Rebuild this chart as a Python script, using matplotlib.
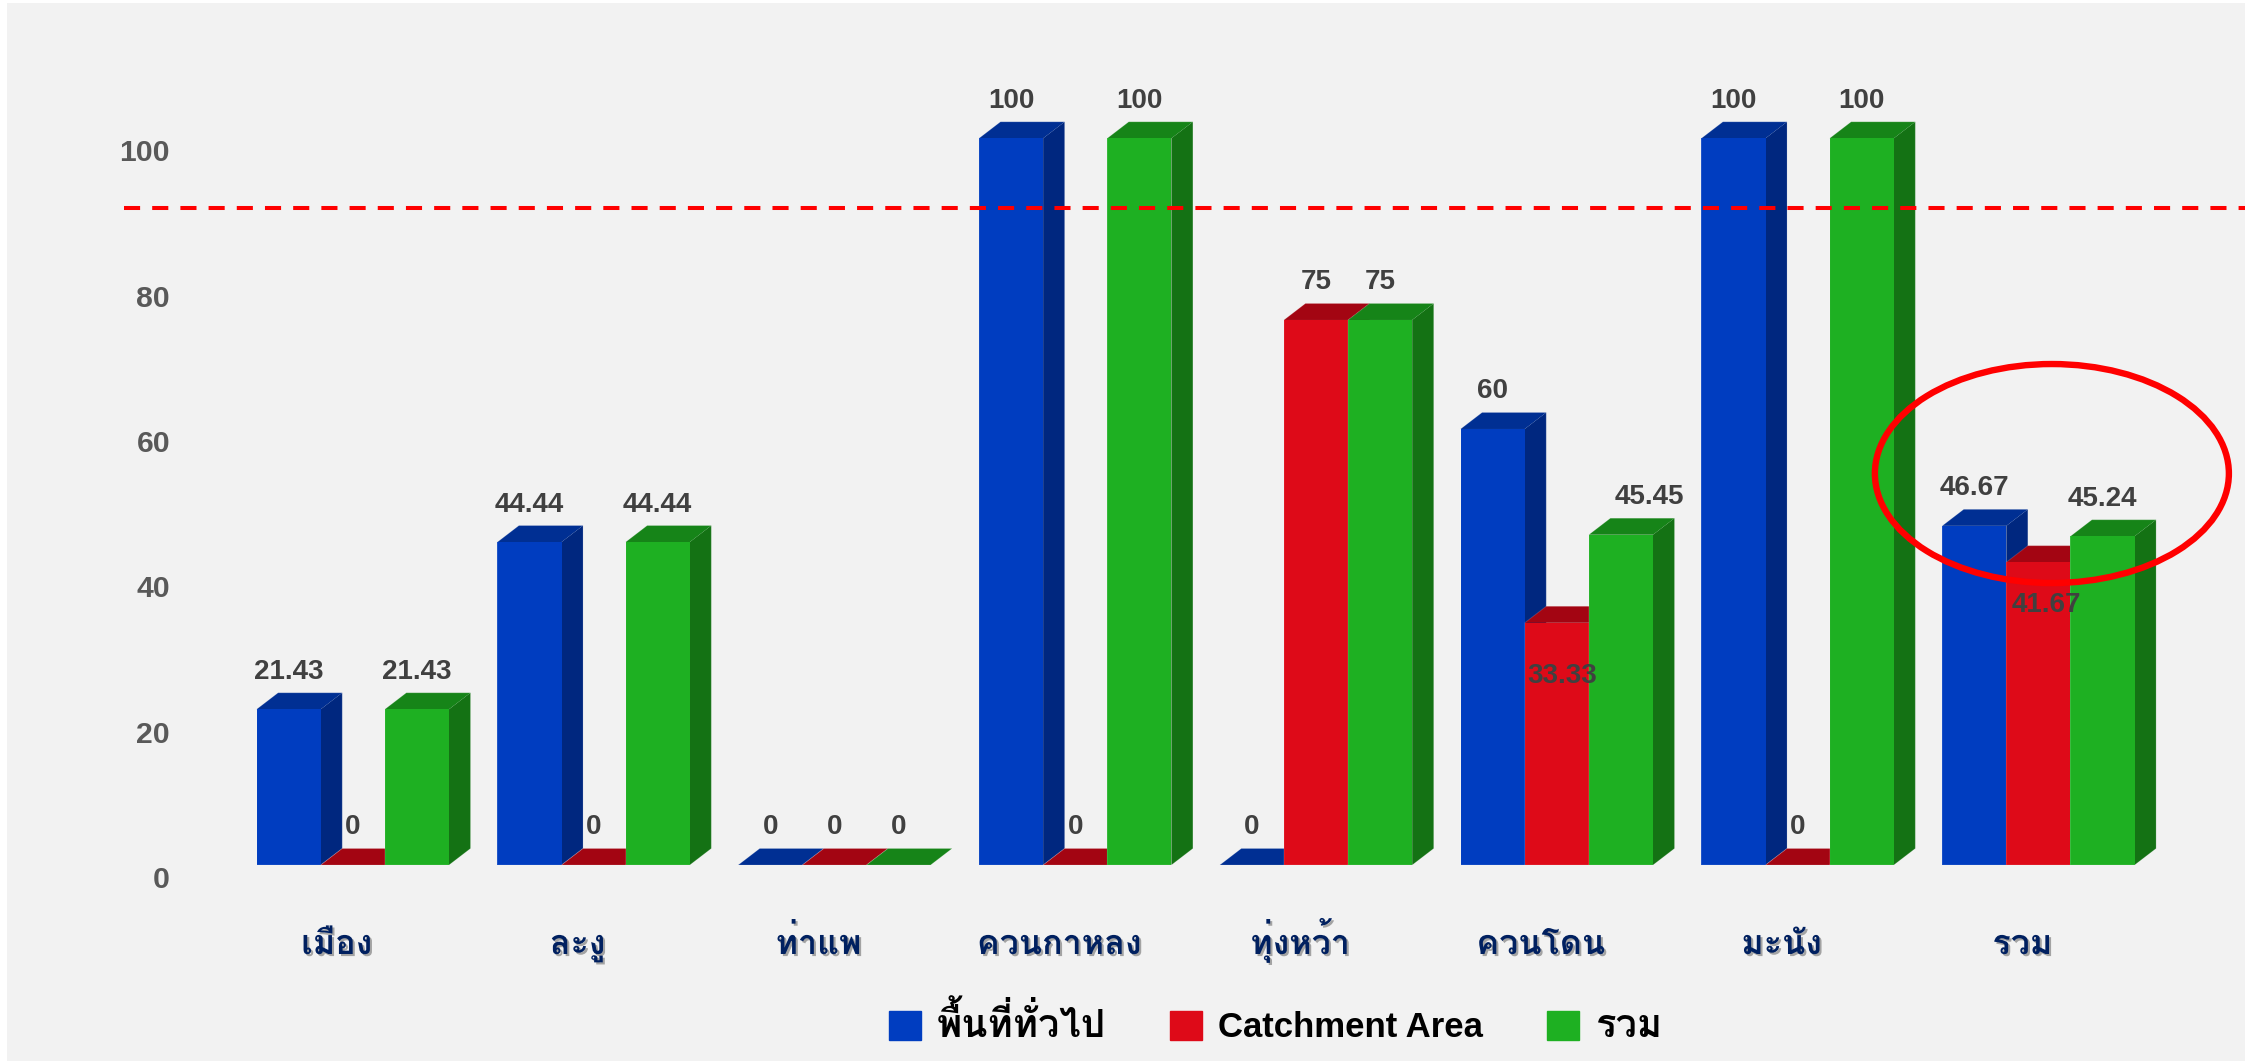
import matplotlib
matplotlib.use('Agg')
import matplotlib.pyplot as plt
import matplotlib.patheffects as pe
from matplotlib.patches import Ellipse, Patch, Polygon, Rectangle
from matplotlib.transforms import ScaledTranslation
import numpy as np

plt.rcParams['font.family'] = ['Liberation Sans', 'Loma']
plt.rcParams['font.weight'] = 'bold'

# ข้อมูล
districts = ['เมือง', 'ละงู', 'ท่าแพ', 'ควนกาหลง', 'ทุ่งหว้า', 'ควนโดน', 'มะนัง', 'รวม']
general = [21.43, 44.44, 0, 100, 0, 60, 100, 46.67]
catchment = [0, 0, 0, 0, 75, 33.33, 0, 41.67]
total = [21.43, 44.44, 0, 100, 75, 45.45, 100, 45.24]
series_names = ['พื้นที่ทั่วไป', 'Catchment Area', 'รวม']
y_ticks = [0, 20, 40, 60, 80, 100]
target_line = 90.45

W, H = 2257, 1061
px_x = 240.8       # ความกว้างของแต่ละกลุ่ม (พิกเซล)
px_y = 7.267       # พิกเซลต่อหนึ่งหน่วยแกน y
bar_w = 64.13 / px_x
dx = 21.5 / px_x   # ความลึก 3 มิติ
dy = 16.5 / px_y
PT = 0.72          # 1 px = 0.72 pt ที่ dpi 100

colors = {
    'front': ['#003DC0', '#DE0A18', '#1EB022'],
    'side': ['#00277F', '#8E0410', '#147214'],
    'top': ['#002F93', '#A30512', '#168418'],
}

fig = plt.figure(figsize=(W / 100, H / 100), dpi=100, facecolor='white')
fig.add_artist(Rectangle((7 / W, 0), 2238 / W, 1058 / H, transform=fig.transFigure,
                         fc='#F2F2F2', ec='none', zorder=-5))

ax = fig.add_axes([180 / W, (H - 865) / H, 2065 / W, 865 / H])
ax.patch.set_visible(False)
ax.set_xlim((180 - 352.8) / px_x, (2245 - 352.8) / px_x)
ax.set_ylim(0, 865 / px_y)
for s in ax.spines.values():
    s.set_visible(False)

# แท่ง 3 มิติ
all_values = [general, catchment, total]
z = 2
for i in range(len(districts)):
    for j, values in enumerate(all_values):
        v = values[i]
        x0 = i + (j - 1.5) * bar_w
        x1 = x0 + bar_w
        ax.add_patch(Polygon([(x1, 0), (x1 + dx, dy), (x1 + dx, v + dy), (x1, v)],
                             fc=colors['side'][j], ec='none', zorder=z, clip_on=False))
        ax.add_patch(Polygon([(x0, v), (x0 + dx, v + dy), (x1 + dx, v + dy), (x1, v)],
                             fc=colors['top'][j], ec='none', zorder=z, clip_on=False))
        ax.bar(x0, v, width=bar_w, align='edge', color=colors['front'][j], zorder=z, clip_on=False)
        # ขอบจาง ๆ รอบแท่ง
        ax.add_patch(Polygon([(x0, 0), (x0, v), (x0 + dx, v + dy), (x1 + dx, v + dy), (x1 + dx, dy), (x1, 0)],
                             fc='none', ec=(1, 1, 1, 0.15), lw=0.7, zorder=z, clip_on=False))
        z += 0.01

# ป้ายค่า ตำแหน่งที่ถูกขยับจากปกติ (กลุ่ม, ชุดข้อมูล): (x, y) พิกเซล
label_shift = {(5, 1): (5, -91), (7, 1): (8, -80), (5, 2): (28, 0)}
for i in range(len(districts)):
    for j, values in enumerate(all_values):
        v = values[i]
        sx, sy = label_shift.get((i, j), (0, 0))
        ax.annotate(f'{v:g}', xy=(i + (j - 1) * bar_w, v),
                    xytext=(sx * PT, (37.5 + sy) * PT), textcoords='offset points',
                    ha='center', va='center', fontsize=20, color='#404040',
                    zorder=20, annotation_clip=False)

# เส้นเป้าหมาย
ax.plot([(124 - 352.8) / px_x, (2245 - 352.8) / px_x], [target_line, target_line],
        color='#FF0000', lw=2.9, linestyle=(0, (4, 3)), dash_capstyle='butt',
        zorder=15, clip_on=False)

# วงรีเน้นกลุ่มรวม
ax.add_patch(Ellipse((7.056, 53.87), 354 / px_x, 219 / px_y, fc='none', ec='#FF0000',
                     lw=4.6, zorder=16, clip_on=False))

# แกน
ax.set_yticks(y_ticks)
ax.set_xticks(range(len(districts)))
ax.set_xticklabels(districts)
ax.tick_params(axis='y', length=0, pad=10 * PT, labelsize=21.7, labelcolor='#595959')
ax.tick_params(axis='x', length=0, pad=89 * PT, labelsize=24.5, labelcolor='#002060')
shift_y = ScaledTranslation(0, -12 / 100, fig.dpi_scale_trans)
shift_x = ScaledTranslation(-16 / 100, 0, fig.dpi_scale_trans)
for lbl in ax.get_yticklabels():
    lbl.set_transform(lbl.get_transform() + shift_y)
for lbl in ax.get_xticklabels():
    lbl.set_transform(lbl.get_transform() + shift_x)
    lbl.set_va('baseline')
    lbl.set_path_effects([pe.withSimplePatchShadow(offset=(1.5, -1.5), shadow_rgbFace='#555555', alpha=0.5)])

# คำอธิบายสัญลักษณ์
handles = [Patch(color=c) for c in colors['front']]
leg = fig.legend(handles, series_names, ncol=3, loc='center', bbox_to_anchor=(1275.5 / W, (H - 1024.5) / H),
                 frameon=False, fontsize=25, labelcolor='black', handlelength=0.92, handleheight=0.92,
                 handletextpad=0.46, columnspacing=1.84, borderpad=0, borderaxespad=0)
leg.get_texts()[0].set_fontsize(27.6)
leg.get_texts()[2].set_fontsize(27.5)

fig.savefig('out.png', dpi=100, facecolor=fig.get_facecolor())
